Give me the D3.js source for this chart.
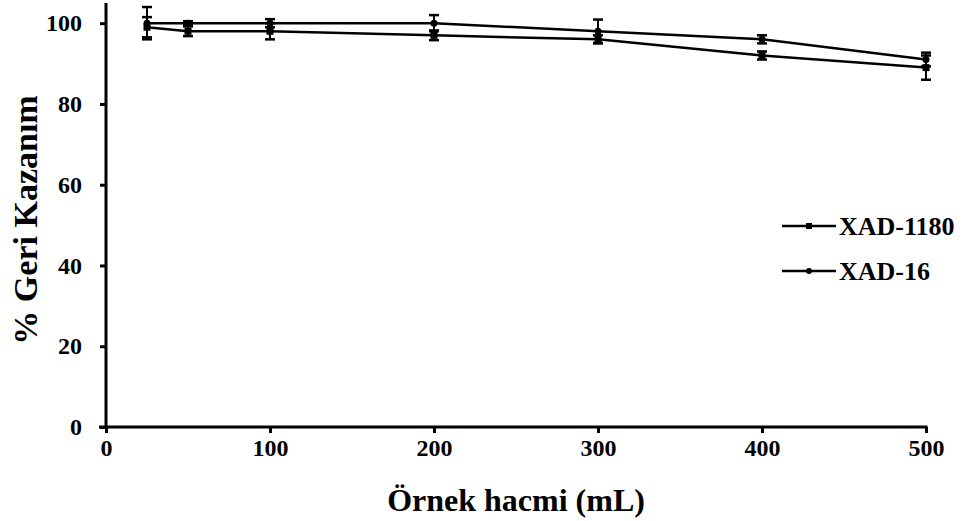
<!DOCTYPE html>
<html>
<head>
<meta charset="utf-8">
<script src="https://cdn.jsdelivr.net/npm/d3@7"></script>
<style>
  html, body { margin: 0; padding: 0; background: #fff; }
  svg { display: block; }
  text { font-family: "Liberation Serif", "Times New Roman", serif; font-weight: bold; fill: #000; }
</style>
</head>
<body>
<svg id="chart" width="963" height="521"></svg>
<script>
// ---- data ----
const volumes = [25, 50, 100, 200, 300, 400, 500];
const xad1180 = [99, 98, 98, 97, 96, 92, 89];
const xad1180Err = [2.5, 1.2, 2, 1.2, 1, 1, 3];
const xad16 = [100, 100, 100, 100, 98, 96, 91];
const xad16Err = [4, 0.5, 1, 2, 2.9, 1, 1.7];
const xTicks = [0, 100, 200, 300, 400, 500];
const yTicks = [0, 20, 40, 60, 80, 100];
const seriesNames = ["XAD-1180", "XAD-16"];
const xTitle = "Örnek hacmi (mL)";
const yTitle = "% Geri Kazanım";

const svg = d3.select("#chart");
const x = d3.scaleLinear().domain([0, 500]).range([106, 926]);
const y = d3.scaleLinear().domain([0, 105]).range([427, 3]);

// axes
const xAxis = svg.append("g").attr("transform", "translate(0,427)")
  .call(d3.axisBottom(x).tickValues(xTicks).tickSize(6).tickPadding(6).tickSizeOuter(0));
const yAxis = svg.append("g").attr("transform", "translate(106,0)")
  .call(d3.axisLeft(y).tickValues(yTicks).tickSize(6).tickPadding(18).tickSizeOuter(0));
[xAxis, yAxis].forEach(g => {
  g.select(".domain").attr("stroke", "#000").attr("stroke-width", 3);
  g.selectAll(".tick line").attr("stroke", "#000").attr("stroke-width", 3);
  g.selectAll(".tick text").style("font-family", '"Liberation Serif", serif')
    .style("font-weight", "bold").style("font-size", "24px").attr("fill", "#000");
});
xAxis.select(".domain").attr("d", `M${x(0) - 7},0H${x(500) + 1.5}`);
yAxis.select(".domain").attr("d", `M0,${y(105)}V${y(0) + 1.5}`);

// titles
svg.append("text").attr("x", 516).attr("y", 511).attr("text-anchor", "middle")
  .style("font-size", "32px").text(xTitle);
svg.append("text").attr("transform", `translate(37,220) rotate(-90)`).attr("text-anchor", "middle")
  .style("font-size", "34px").text(yTitle);

const line = d3.line().x(d => x(d[0])).y(d => y(d[1]));

function drawSeries(vals, errs, shape) {
  const pts = volumes.map((v, i) => [v, vals[i], errs[i]]);
  const g = svg.append("g");
  g.append("path").datum(pts).attr("d", line).attr("fill", "none")
    .attr("stroke", "#000").attr("stroke-width", 2.5);
  const eb = g.selectAll(".eb").data(pts).enter().append("g");
  eb.append("line").attr("x1", d => x(d[0])).attr("x2", d => x(d[0]))
    .attr("y1", d => y(d[1] + d[2])).attr("y2", d => y(d[1] - d[2]))
    .attr("stroke", "#000").attr("stroke-width", 2);
  [1, -1].forEach(s => {
    eb.append("line").attr("x1", d => x(d[0]) - 5).attr("x2", d => x(d[0]) + 5)
      .attr("y1", d => y(d[1] + s * d[2])).attr("y2", d => y(d[1] + s * d[2]))
      .attr("stroke", "#000").attr("stroke-width", 2.5);
  });
  if (shape === "square") {
    g.selectAll(".m").data(pts).enter().append("rect")
      .attr("x", d => x(d[0]) - 3.5).attr("y", d => y(d[1]) - 3.5)
      .attr("width", 7).attr("height", 7).attr("fill", "#000");
  } else {
    g.selectAll(".m").data(pts).enter().append("circle")
      .attr("cx", d => x(d[0])).attr("cy", d => y(d[1])).attr("r", 3.5).attr("fill", "#000");
  }
}
drawSeries(xad1180, xad1180Err, "square");
drawSeries(xad16, xad16Err, "circle");

// legend
const legendY = [226, 271];
seriesNames.forEach((name, i) => {
  const g = svg.append("g").attr("transform", `translate(0,${legendY[i]})`);
  g.append("line").attr("x1", 782).attr("x2", 836).attr("y1", 0).attr("y2", 0)
    .attr("stroke", "#000").attr("stroke-width", 2.5);
  if (i === 0) g.append("rect").attr("x", 806).attr("y", -3).attr("width", 6).attr("height", 6).attr("fill", "#000");
  else g.append("circle").attr("cx", 809).attr("cy", 0).attr("r", 3).attr("fill", "#000");
  g.append("text").attr("x", 839).attr("y", 9).style("font-size", "26px").text(name);
});
</script>
</body>
</html>
